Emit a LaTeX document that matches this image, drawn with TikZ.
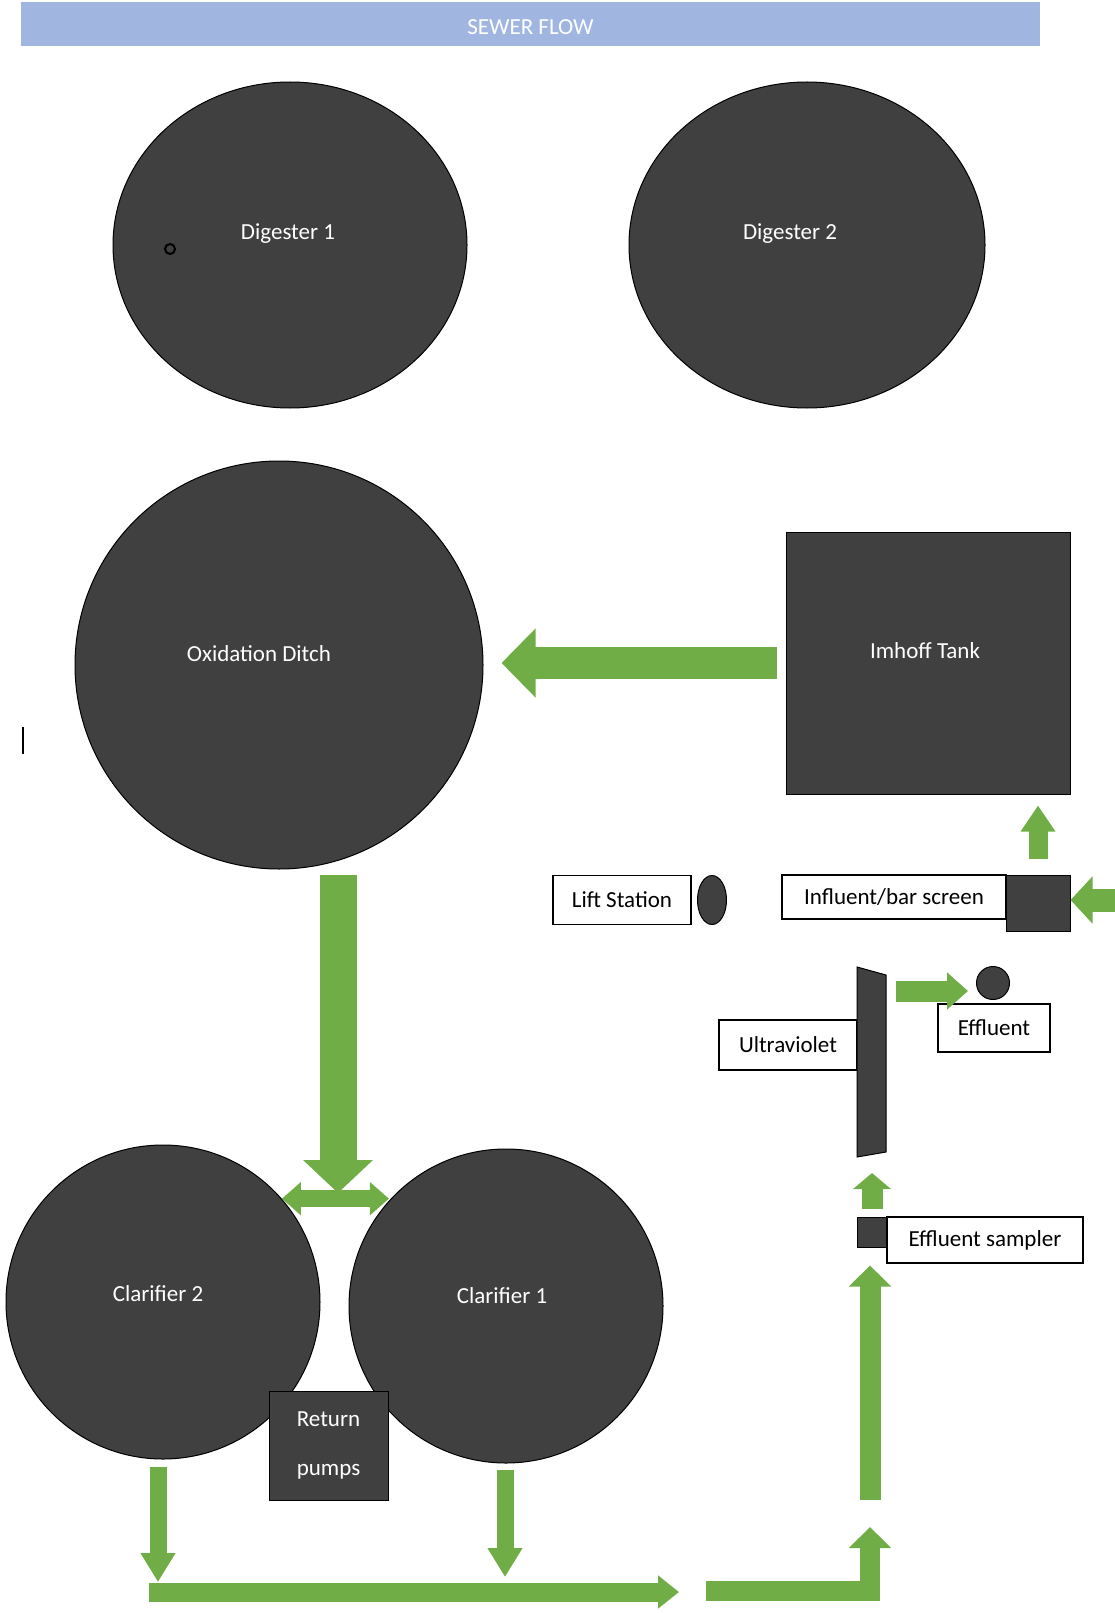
\documentclass[tikz,border=0pt]{standalone}
\usepackage{fontspec}
\setmainfont{Carlito}
\usetikzlibrary{arrows.meta,shapes.geometric,calc}
\definecolor{tankgray}{RGB}{64,64,64}
\definecolor{flowgreen}{RGB}{112,173,71}
\definecolor{bannerblue}{RGB}{160,182,224}

\begin{document}
\begin{tikzpicture}[x=1pt, y=-1pt, every node/.style={font=\fontsize{23}{28}\selectfont}]
  \tikzstyle{tank}=[draw=black, fill=tankgray, line width=1pt, text=white, inner sep=0pt]
  \tikzstyle{tanklbl}=[text=white]
  \tikzstyle{tag}=[draw=black, fill=white, line width=1.5pt, inner sep=0pt]
  \tikzstyle{flow}=[draw=flowgreen, line join=miter]
  \useasboundingbox (0,0) rectangle (1115,1613);

  \node[fill=bannerblue, minimum width=1019pt, minimum height=44pt, text=white, label={[text=white, yshift=-3pt]center:SEWER FLOW}] (banner) at (530.5,24) {};

  % tanks
  \node[tank, ellipse, minimum width=354pt, minimum height=326pt, label={[tanklbl, xshift=-2pt, yshift=11pt]center:Digester 1}] (dig1) at (290,245) {};
  \node[tank, ellipse, minimum width=356pt, minimum height=326pt, label={[tanklbl, xshift=-17pt, yshift=11pt]center:Digester 2}] (dig2) at (807,245) {};
  \draw[line width=2pt] (170,249) circle (5);
  \node[tank, circle, minimum size=408pt, label={[tanklbl, xshift=-20pt, yshift=11pt]center:Oxidation Ditch}] (ditch) at (279,665) {};
  \node[tank, minimum width=284pt, minimum height=262pt, label={[tanklbl, xshift=-3pt, yshift=12pt]center:Imhoff Tank}] (imhoff) at (928,663) {};
  \node[tank, circle, minimum size=314pt, label={[tanklbl, xshift=-5pt, yshift=8pt]center:Clarifier 2}] (clar2) at (163,1302) {};
  \node[tank, circle, minimum size=314pt, label={[tanklbl, xshift=-4pt, yshift=10pt]center:Clarifier 1}] (clar1) at (506,1306) {};
  \node[tank, minimum width=119pt, minimum height=109pt, align=center] (pumps) at (328.5,1445.5) {Return\\[21pt]pumps};
  \draw[line width=1.5pt] (23,727) -- (23,754);

  % small units
  \node[tag, minimum width=138pt, minimum height=49pt] (lift) at (622,900) {Lift Station};
  \node[tank, ellipse, minimum width=29pt, minimum height=49pt] (liftpump) at (712,900) {};
  \node[tag, minimum width=224pt, minimum height=44pt] (influent) at (894,897) {Influent/bar screen};
  \node[tank, minimum width=64pt, minimum height=56pt] (screen) at (1038,903) {};
  \node[tag, minimum width=138pt, minimum height=50pt] (uvtag) at (788,1045) {Ultraviolet};
  \filldraw[fill=tankgray, draw=black, line width=1pt] (857,967) -- (886,975) -- (886,1152) -- (857,1157) -- cycle;
  \coordinate (uvfoot) at (871,1155);
  \coordinate (uvside) at (886,991);
  \node[tank, circle, minimum size=33pt] (effdot) at (993,983) {};
  \node[tag, minimum width=112pt, minimum height=48pt] (efftag) at (994,1028) {Effluent};
  \node[tank, minimum size=30pt] (sampler) at (872,1232) {};
  \node[tag, minimum width=196pt, minimum height=46pt] (samplertag) at (985,1240) {Effluent sampler};

  % flow arrows
  \coordinate (inlet) at (1115,900);
  \draw[flow, line width=23pt, -{Triangle[length=22pt,width=46pt]}] (inlet) -- (inlet -| screen.east);
  \draw[flow, line width=19pt, -{Triangle[length=26pt,width=33pt]}, shorten <=16pt, shorten >=11pt] (screen.north) -- (screen.north |- imhoff.south);
  \draw[flow, line width=32pt, -{Triangle[length=34pt,width=67pt]}, shorten <=9pt, shorten >=18pt] (imhoff.west) -- (imhoff.west -| ditch.east);

  \coordinate (split) at (338,1200);
  \draw[flow, line width=17pt, {Triangle[length=19pt,width=32pt]}-{Triangle[length=19pt,width=32pt]}] (clar2.41) -- (clar2.41 -| clar1.138);
  \draw[flow, line width=37pt, -{Triangle[length=33pt,width=68pt]}, shorten >=7pt] ($(ditch.south)+(59,5)$) -- (split);

  \coordinate (pipein) at (149,1592);
  \coordinate (pipeout) at (679,1592);
  \coordinate (c2out) at ($(clar2.south)+(-5,0)$);
  \coordinate (c1out) at ($(clar1.south)+(-1,0)$);
  \draw[flow, line width=17pt, -{Triangle[length=29pt,width=33pt]}, shorten <=7pt, shorten >=10pt] (c2out) -- (c2out |- pipein);
  \draw[flow, line width=17pt, -{Triangle[length=29pt,width=33pt]}, shorten <=6pt, shorten >=15pt] (c1out) -- (c1out |- pipein);
  \draw[flow, line width=19pt, -{Triangle[length=21pt,width=32pt]}] (pipein) -- (pipeout);

  \coordinate (bendin) at (706,1591);
  \coordinate (riser) at (870,1500);
  \draw[flow, line width=20pt, -{Triangle[length=21pt,width=41pt]}, shorten >=27pt] (bendin) -| (riser);
  \draw[flow, line width=21pt, -{Triangle[length=21pt,width=41pt]}, shorten >=18pt] (riser) -- (riser |- sampler.south);
  \draw[flow, line width=21pt, -{Triangle[length=16pt,width=37pt]}, shorten <=8pt, shorten >=18pt] (sampler.north) -- (sampler.north |- uvfoot);
  \draw[flow, line width=21pt, -{Triangle[length=21pt,width=36pt]}, shorten <=10pt, shorten >=8pt] (uvside) -- (uvside -| effdot.west);
\end{tikzpicture}
\end{document}
